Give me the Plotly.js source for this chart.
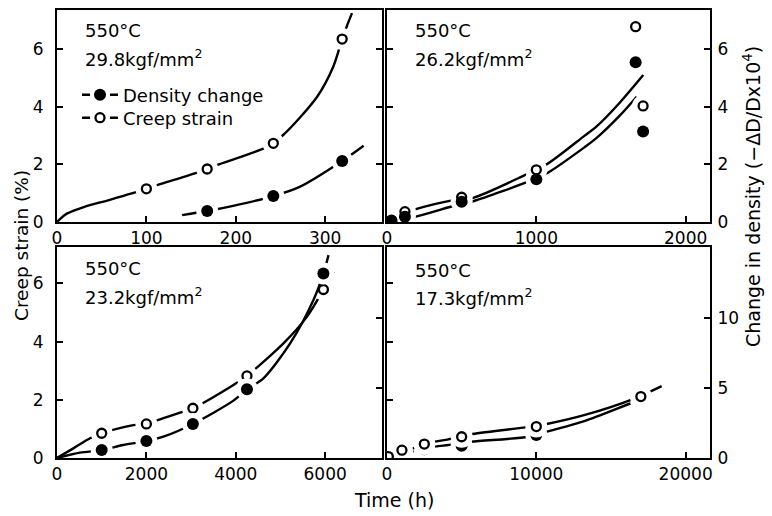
<!DOCTYPE html>
<html>
<head>
<meta charset="utf-8">
<script src="https://cdn.plot.ly/plotly-3.0.1.min.js"></script>
<style>html,body{margin:0;padding:0;background:#fff;}#chart{width:772px;height:516px;}</style>
</head>
<body>
<div id="chart"></div>
<script>
// ---------- data ----------
// Panel A: 550°C, 29.8 kgf/mm2  (time 0-360 h)
const aCreepT = [100, 168, 242, 319];
const aCreepY = [1.15, 1.84, 2.73, 6.35];
const aDensT  = [168, 242, 319];
const aDensY  = [0.38, 0.90, 2.12];
const aCreepCurveT = [0, 4, 11, 30, 60, 100, 112, 160, 179, 235, 253, 291, 309, 319, 324, 330];
const aCreepCurveY = [0, 0.12, 0.29, 0.52, 0.78, 1.15, 1.28, 1.75, 1.98, 2.61, 3.02, 4.35, 5.39, 6.35, 6.78, 7.25];
const aDensCurveT  = [140, 168, 197, 242, 272, 319, 343];
const aDensCurveY  = [0.24, 0.38, 0.56, 0.90, 1.23, 2.12, 2.65];

// Panel B: 550°C, 26.2 kgf/mm2  (time 0-2150 h)
const bT      = [30, 120, 500, 1000, 1665, 1715];
const bCreepY = [0.05, 0.36, 0.86, 1.81, 6.78, 4.03];
const bDensY  = [0.05, 0.18, 0.70, 1.48, 5.55, 3.14];
const bCreepCurveT = [0, 60, 176, 444, 578, 924, 1069, 1324, 1402, 1560, 1716];
const bCreepCurveY = [0, 0.20, 0.42, 0.76, 0.84, 1.63, 2.00, 3.00, 3.31, 4.15, 5.10];
const bDensCurveT  = [0, 187, 467, 578, 969, 1080, 1324, 1402, 1560, 1672];
const bDensCurveY  = [0, 0.18, 0.59, 0.72, 1.45, 1.72, 2.60, 2.91, 3.70, 4.35];

// Panel C: 550°C, 23.2 kgf/mm2  (time 0-7200 h)
const cT      = [1000, 2000, 3040, 4250, 5960];
const cCreepY = [0.85, 1.17, 1.71, 2.82, 5.79];      // creep strain (%)
const cDensY  = [0.57, 1.21, 2.43, 4.91, 13.19];     // -dD/D x 10^4
const cCreepCurveT = [0, 365, 739, 1000, 1708, 2008, 2754, 3038, 3947, 4247, 5066, 5590, 5962, 6186];
const cCreepCurveY = [0, 0.33, 0.68, 0.85, 1.13, 1.19, 1.56, 1.71, 2.51, 2.82, 3.94, 4.85, 5.79, 6.40];
const cDensCurveT  = [0, 515, 1000, 1484, 2008, 2380, 3038, 3947, 4247, 4618, 5216, 5738, 5962, 6074];
const cDensCurveY  = [0, 0.38, 0.57, 0.93, 1.21, 1.52, 2.43, 4.10, 4.91, 5.69, 8.19, 11.29, 13.19, 14.50];

// Panel D: 550°C, 17.3 kgf/mm2  (time 0-21600 h)
const dT      = [90, 1000, 2500, 5000, 10000, 17000];
const dCreepY = [0.05, 0.27, 0.48, 0.73, 1.08, 2.11];
const dDensY  = [0.12, 0.39, 0.62, 0.88, 1.64, 4.14];
const dCreepCurveT = [0, 536, 1000, 1540, 2096, 3214, 4104, 5000, 5624, 9463, 10693, 13258, 16605, 18393];
const dCreepCurveY = [0, 0.14, 0.27, 0.31, 0.38, 0.56, 0.64, 0.76, 0.82, 1.07, 1.17, 1.48, 2.05, 2.47];
const dDensCurveT  = [0, 536, 1000, 1540, 2096, 3214, 4104, 5624, 9463, 10693, 13258, 16605, 17000];
const dDensCurveY  = [0, 0.21, 0.39, 0.45, 0.55, 0.81, 0.93, 1.16, 1.52, 1.88, 2.66, 4.02, 4.14];

const panelTemp   = ['550°C', '550°C', '550°C', '550°C'];
const panelStress = ['29.8kgf/mm<sup>2</sup>', '26.2kgf/mm<sup>2</sup>', '23.2kgf/mm<sup>2</sup>', '17.3kgf/mm<sup>2</sup>'];
const legendNames = ['Density change', 'Creep strain'];
const xTicksA = [0, 100, 200, 300];
const xTicksB = [0, 1000, 2000];
const xTicksC = [0, 2000, 4000, 6000];
const xTicksD = [0, 10000, 20000];
const yTicksStrain = [0, 2, 4, 6];
const yTicksDensBottom = [0, 5, 10];

// ---------- helpers ----------
const FONT = 'DejaVu Sans, sans-serif';
const W = 772, H = 516;
const px = v => v / W;
const py = v => 1 - v / H;

const traces = [];
function curve(x, y, xa, ya) {
  traces.push({x, y, xaxis: xa, yaxis: ya, type: 'scatter', mode: 'lines',
    line: {color: '#000', width: 2.4, shape: 'spline', smoothing: 0.8},
    showlegend: false, hoverinfo: 'skip'});
}
function halo(x, y, xa, ya) {
  traces.push({x, y, xaxis: xa, yaxis: ya, type: 'scatter', mode: 'markers',
    marker: {symbol: 'circle', size: 22, color: '#fff', line: {width: 0}},
    showlegend: false, hoverinfo: 'skip'});
}
function openPts(x, y, xa, ya) {
  traces.push({x, y, xaxis: xa, yaxis: ya, type: 'scatter', mode: 'markers',
    marker: {symbol: 'circle', size: 9, color: '#fff', line: {color: '#000', width: 2.3}},
    showlegend: false});
}
function filledPts(x, y, xa, ya) {
  traces.push({x, y, xaxis: xa, yaxis: ya, type: 'scatter', mode: 'markers',
    marker: {symbol: 'circle', size: 12, color: '#000', line: {width: 0}},
    showlegend: false});
}

// Panel A
curve(aCreepCurveT, aCreepCurveY, 'x', 'y');
curve(aDensCurveT, aDensCurveY, 'x', 'y');
halo(aCreepT, aCreepY, 'x', 'y');
halo(aDensT, aDensY, 'x', 'y');
openPts(aCreepT, aCreepY, 'x', 'y');
filledPts(aDensT, aDensY, 'x', 'y');

// Panel B
curve(bCreepCurveT, bCreepCurveY, 'x2', 'y2');
curve(bDensCurveT, bDensCurveY, 'x2', 'y2');
halo(bT, bCreepY, 'x2', 'y2');
halo(bT, bDensY, 'x2', 'y2');
openPts(bT, bCreepY, 'x2', 'y2');
filledPts(bT, bDensY, 'x2', 'y2');

// Panel C (creep on left axis y3, density on right axis y5)
curve(cCreepCurveT, cCreepCurveY, 'x3', 'y3');
curve(cDensCurveT, cDensCurveY, 'x3', 'y5');
halo(cT, cCreepY, 'x3', 'y3');
halo(cT, cDensY, 'x3', 'y5');
openPts(cT, cCreepY, 'x3', 'y3');
filledPts(cT, cDensY, 'x3', 'y5');

// Panel D (density on right axis y4, creep on left axis y6)
curve(dCreepCurveT, dCreepCurveY, 'x4', 'y6');
curve(dDensCurveT, dDensCurveY, 'x4', 'y4');
halo(dT, dCreepY, 'x4', 'y6');
halo(dT, dDensY, 'x4', 'y4');
openPts(dT, dCreepY, 'x4', 'y6');
filledPts(dT, dDensY, 'x4', 'y4');

// legend entries (one legend box per row for exact placement)
traces.push({x: [null], y: [null], xaxis: 'x', yaxis: 'y', type: 'scatter', mode: 'lines+markers',
  name: legendNames[0], legend: 'legend', line: {color: '#000', width: 2.4, dash: '8px,20px,8px'},
  marker: {symbol: 'circle', size: 12, color: '#000'}, showlegend: true});
traces.push({x: [null], y: [null], xaxis: 'x', yaxis: 'y', type: 'scatter', mode: 'lines+markers',
  name: legendNames[1], legend: 'legend2', line: {color: '#000', width: 2.4, dash: '8px,20px,8px'},
  marker: {symbol: 'circle', size: 9, color: '#fff', line: {color: '#000', width: 2.3}}, showlegend: true});

// ---------- axes ----------
const tickFont = {family: FONT, size: 17, color: '#000'};
function xax(dom, range, ticks, anchor) {
  return {domain: dom, range, anchor, tickvals: ticks, ticktext: ticks.map(String),
    showline: true, linecolor: '#000', linewidth: 2, mirror: true,
    ticks: 'inside', ticklen: 6, tickwidth: 2, tickcolor: '#000',
    showgrid: false, zeroline: false, tickfont: tickFont, fixedrange: true};
}
function yax(dom, range, ticks, anchor, side, labels) {
  return {domain: dom, range, anchor, side, tickvals: ticks, ticktext: ticks.map(String),
    showticklabels: labels, showline: true, linecolor: '#000', linewidth: 2, mirror: false,
    ticks: 'inside', ticklen: 6, tickwidth: 2, tickcolor: '#000',
    showgrid: false, zeroline: false, tickfont: tickFont, fixedrange: true,
    ticklabelstandoff: side === 'left' ? 8 : 2};
}
const xdL = [px(57), px(381.5)], xdR = [px(387), px(710)];
const ydT = [py(222), py(10)], ydB = [py(458), py(246.7)];

const legendBase = {xanchor: 'left', yanchor: 'middle', bgcolor: 'rgba(0,0,0,0)',
  font: {family: FONT, size: 18, color: '#000'}, tracegroupgap: 0, itemwidth: 36, borderwidth: 0};

const layout = {
  width: W, height: H, margin: {l: 0, r: 0, t: 0, b: 0},
  paper_bgcolor: '#fff', plot_bgcolor: 'rgba(0,0,0,0)',
  font: {family: FONT, color: '#000'},
  xaxis:  xax(xdL, [0, 363], xTicksA, 'y'),
  xaxis2: xax(xdR, [0, 2163], xTicksB, 'y2'),
  xaxis3: xax(xdL, [0, 7260], xTicksC, 'y3'),
  xaxis4: xax(xdR, [0, 21630], xTicksD, 'y4'),
  yaxis:  Object.assign(yax(ydT, [0, 7.36], yTicksStrain, 'x', 'left', true), {mirror: 'ticks'}),
  yaxis2: Object.assign(yax(ydT, [0, 7.36], yTicksStrain, 'x2', 'right', true), {mirror: 'ticks'}),
  yaxis3: yax(ydB, [0, 7.26], yTicksStrain, 'x3', 'left', true),
  yaxis5: Object.assign(yax(ydB, [0, 15.1], yTicksDensBottom, 'x3', 'right', false), {overlaying: 'y3'}),
  yaxis4: yax(ydB, [0, 15.1], yTicksDensBottom, 'x4', 'right', true),
  yaxis6: Object.assign(yax(ydB, [0, 7.26], yTicksStrain, 'x4', 'left', false), {overlaying: 'y4'}),
  showlegend: true,
  legend:  Object.assign({x: px(77), y: py(95)}, legendBase),
  legend2: Object.assign({x: px(77), y: py(118)}, legendBase),
  annotations: []
};

const labelPos = [[83, 31, 58], [413, 31, 58], [83, 268, 296], [413, 270, 297]];
for (let i = 0; i < 4; i++) {
  const [lx, y1, y2] = labelPos[i];
  layout.annotations.push({xref: 'paper', yref: 'paper', x: px(lx), y: py(y1), xanchor: 'left', yanchor: 'middle',
    text: panelTemp[i], showarrow: false, font: {family: FONT, size: 18, color: '#000'}});
  layout.annotations.push({xref: 'paper', yref: 'paper', x: px(lx), y: py(y2), xanchor: 'left', yanchor: 'middle',
    text: panelStress[i], showarrow: false, font: {family: FONT, size: 18, color: '#000'}});
}
layout.annotations.push({xref: 'paper', yref: 'paper', x: px(22), y: py(246), xanchor: 'center', yanchor: 'middle',
  text: 'Creep strain (%)', textangle: -90, showarrow: false, font: {family: FONT, size: 18.5, color: '#000'}});
layout.annotations.push({xref: 'paper', yref: 'paper', x: px(752), y: py(197), xanchor: 'center', yanchor: 'middle',
  text: 'Change in density (−ΔD/Dx10<sup>4</sup>)', textangle: -90, showarrow: false, font: {family: FONT, size: 19, color: '#000'}});
layout.annotations.push({xref: 'paper', yref: 'paper', x: px(394), y: py(500), xanchor: 'center', yanchor: 'middle',
  text: 'Time (h)', showarrow: false, font: {family: FONT, size: 19, color: '#000'}});

Plotly.newPlot('chart', traces, layout, {staticPlot: true, displayModeBar: false});
</script>
</body>
</html>
